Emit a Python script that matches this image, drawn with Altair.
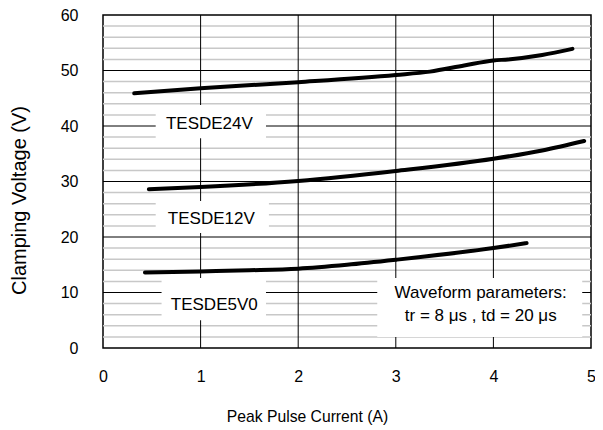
import altair as alt
import pandas as pd

# Curves (Peak Pulse Current in A, Clamping Voltage in V)
x24 = [0.32, 1.0, 2.0, 3.0, 3.35, 3.7, 4.0, 4.15, 4.5, 4.81]
y24 = [45.9, 46.8, 47.9, 49.2, 49.8, 50.9, 51.8, 52.0, 52.8, 53.9]
x12 = [0.47, 1.0, 2.0, 3.0, 4.0, 4.5, 4.93]
y12 = [28.6, 29.0, 30.1, 31.9, 34.1, 35.6, 37.3]
x5 = [0.43, 1.0, 1.5, 2.0, 2.5, 3.0, 4.0, 4.34]
y5 = [13.6, 13.8, 14.0, 14.3, 15.0, 15.9, 18.0, 18.9]

# Grid values
x_major = [1, 2, 3, 4]
y_major = [10, 20, 30, 40, 50]
y_minor = [v for v in range(2, 60, 2) if v % 10 != 0]
x_ticks = [0, 1, 2, 3, 4, 5]
y_ticks = [0, 10, 20, 30, 40, 50, 60]

# Annotations (data units)
label_text = ["TESDE24V", "TESDE12V", "TESDE5V0", "Waveform parameters:", "tr = 8 \u03bcs , td = 20 \u03bcs"]
label_x = [1.09, 1.11, 1.14, 3.87, 3.87]
label_y = [40.4, 23.2, 7.75, 9.86, 5.77]
box_x1 = [0.54, 0.54, 0.60, 2.81]
box_x2 = [1.67, 1.70, 1.67, 4.91]
box_y1 = [37.8, 20.7, 5.0, 2.0]
box_y2 = [43.8, 26.5, 12.6, 12.6]

FONT = "Liberation Sans"

curves = pd.DataFrame(
    {"x": x24 + x12 + x5,
     "y": y24 + y12 + y5,
     "s": ["24V"] * len(x24) + ["12V"] * len(x12) + ["5V0"] * len(x5)}
)
labels = pd.DataFrame({"t": label_text, "x": label_x, "y": label_y})
boxes = pd.DataFrame({"x1": box_x1, "x2": box_x2, "y1": box_y1, "y2": box_y2})

xs = alt.Scale(domain=[0, 5], nice=False)
ys = alt.Scale(domain=[0, 60], nice=False)

minor = alt.Chart(pd.DataFrame({"v": y_minor})).mark_rule(
    color="#c8c8c8", strokeWidth=1.5
).encode(y=alt.Y("v:Q", scale=ys, axis=alt.Axis(
    title="Clamping Voltage (V)", values=y_ticks, format="d", grid=False, ticks=False, domain=False,
    labelPadding=25, labelFontSize=16, labelFont=FONT, labelColor="black",
    titleFont=FONT, titleFontSize=20, titleFontWeight="normal", titleColor="black",
    titlePadding=31, titleY=185)))

hmajor = alt.Chart(pd.DataFrame({"v": y_major})).mark_rule(
    color="black", strokeWidth=1
).encode(y=alt.Y("v:Q", scale=ys))

vmajor = alt.Chart(pd.DataFrame({"v": x_major})).mark_rule(
    color="black", strokeWidth=1
).encode(x=alt.X("v:Q", scale=xs, axis=alt.Axis(
    title="Peak Pulse Current (A)", values=x_ticks, format="d", grid=False, ticks=False, domain=False,
    labelPadding=20, labelFontSize=16, labelFont=FONT, labelColor="black", labelFlush=False,
    titleFont=FONT, titleFontSize=15.7, titleFontWeight="normal", titleColor="black",
    titlePadding=25, titleX=204)))

rects = alt.Chart(boxes).mark_rect(color="white").encode(
    x=alt.X("x1:Q", scale=xs), x2="x2:Q",
    y=alt.Y("y1:Q", scale=ys), y2="y2:Q")

lines = alt.Chart(curves).mark_line(
    color="black", strokeWidth=4, interpolate="monotone", strokeCap="round"
).encode(x=alt.X("x:Q", scale=xs), y=alt.Y("y:Q", scale=ys), detail="s:N")

texts = alt.Chart(labels).mark_text(
    font=FONT, fontSize=17, color="black", align="center", baseline="middle"
).encode(x=alt.X("x:Q", scale=xs), y=alt.Y("y:Q", scale=ys), text="t:N")

chart = alt.layer(minor, hmajor, vmajor, rects, lines, texts).properties(
    width=488, height=333,
    autosize=alt.AutoSizeParams(type="none"),
    padding={"left": 95, "top": 7, "right": 4, "bottom": 79},
    background="white",
).configure_view(stroke="black", strokeWidth=1.5)

chart.save("out.html", embed_options={"renderer": "svg", "actions": False})
